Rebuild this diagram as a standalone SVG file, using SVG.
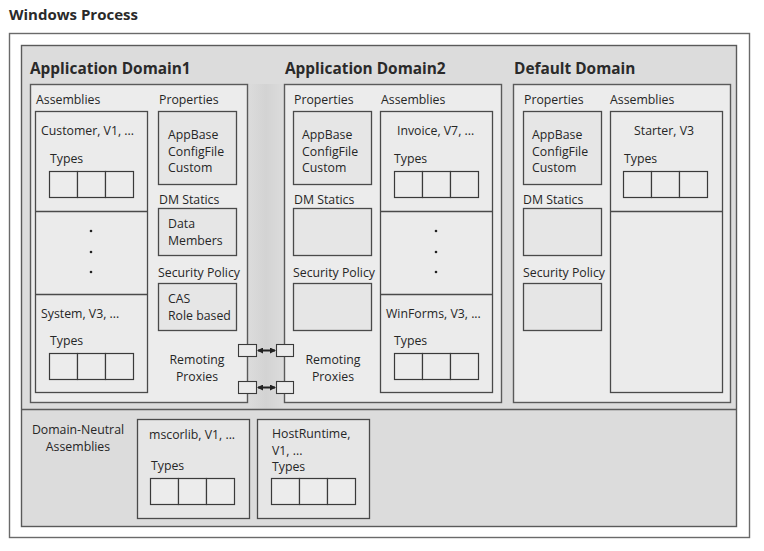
<svg xmlns="http://www.w3.org/2000/svg" width="764" height="551" viewBox="0 0 764 551">
<defs>
<style>
text{font-family:"Open Sans","Noto Sans","DejaVu Sans",sans-serif;font-size:12.3px;fill:#262626}
.t{font-size:15.4px;font-weight:bold;fill:#2a2a2a}
.h{font-size:15px;font-weight:bold;fill:#2a2a2a}
.c{text-anchor:middle}
.dom{fill:#ececec;stroke:#5a5a5a;stroke-width:1.4}
.box{fill:#e6e6e6;stroke:#4a4a4a;stroke-width:1.3}
.col{fill:#ebebeb;stroke:#4a4a4a;stroke-width:1.3}
.cell{fill:#ececec;stroke:#3a3a3a;stroke-width:1.2}
.ln{stroke:#4a4a4a;stroke-width:1.3}
.dot{fill:#222}
.px{fill:#ebebeb;stroke:#3a3a3a;stroke-width:1.1}
</style>
<g id="types-cells">
<rect class="cell" x="0" y="0" width="28" height="26"/>
<rect class="cell" x="28" y="0" width="28" height="26"/>
<rect class="cell" x="56" y="0" width="28" height="26"/>
</g>
<marker id="ah" markerWidth="6" markerHeight="6" refX="5" refY="3" orient="auto-start-reverse" markerUnits="userSpaceOnUse">
<path d="M0,0 L6,3 L0,6 z" fill="#222"/>
</marker>
<linearGradient id="band" x1="0" x2="1" y1="0" y2="0">
<stop offset="0" stop-color="#dcdcdc"/>
<stop offset="0.5" stop-color="#d3d3d3"/>
<stop offset="1" stop-color="#dcdcdc"/>
</linearGradient>
</defs>
<rect width="764" height="551" fill="#ffffff"/>
<text class="h" x="9" y="20">Windows Process</text>
<g id="windows-process">
<rect x="9.5" y="33.5" width="740" height="504" fill="#ffffff" stroke="#6a6a6a" stroke-width="1.4"/>
<rect x="21.5" y="45.5" width="715" height="481" fill="#dcdcdc" stroke="#5a5a5a" stroke-width="1.4"/>
<rect x="248" y="84" width="36" height="325" fill="url(#band)"/>
<line x1="21.5" y1="409.5" x2="736.5" y2="409.5" stroke="#5a5a5a" stroke-width="1.4"/>
</g>
<g id="appdomain1">
<text class="t" x="30" y="74">Application Domain1</text>
<rect class="dom" x="30.5" y="84.5" width="217" height="318"/>
<text x="36" y="104">Assemblies</text>
<rect class="col" x="35.5" y="111.5" width="112" height="281"/>
<line class="ln" x1="35.5" y1="211.5" x2="147.5" y2="211.5"/>
<line class="ln" x1="35.5" y1="294.5" x2="147.5" y2="294.5"/>
<text x="41" y="135">Customer, V1, ...</text>
<text x="50" y="163">Types</text>
<use href="#types-cells" x="49.5" y="171.5"/>
<circle class="dot" cx="91" cy="231" r="1.3"/>
<circle class="dot" cx="91" cy="252" r="1.3"/>
<circle class="dot" cx="91" cy="272" r="1.3"/>
<text x="41" y="318">System, V3, ...</text>
<text x="50" y="345">Types</text>
<use href="#types-cells" x="49.5" y="353.5"/>
<text x="159" y="104">Properties</text>
<rect class="box" x="158.5" y="111.5" width="78" height="73"/>
<text x="168" y="139">AppBase<tspan x="168" dy="16.5">ConfigFile</tspan><tspan x="168" dy="16.5">Custom</tspan></text>
<text x="159" y="204">DM Statics</text>
<rect class="box" x="158.5" y="208.5" width="78" height="47"/>
<text x="168" y="228">Data<tspan x="168" dy="16.5">Members</tspan></text>
<text x="158" y="277">Security Policy</text>
<rect class="box" x="158.5" y="283.5" width="78" height="47"/>
<text x="168" y="303">CAS<tspan x="168" dy="16.5">Role based</tspan></text>
<text class="c" x="197" y="364">Remoting<tspan x="197" dy="16.5">Proxies</tspan></text>
<rect class="px" x="238.5" y="344.5" width="18" height="12"/>
<rect class="px" x="238.5" y="381.5" width="18" height="12"/>
</g>
<g id="appdomain2">
<text class="t" x="285" y="74">Application Domain2</text>
<rect class="dom" x="284.5" y="84.5" width="217" height="318"/>
<text x="294" y="104">Properties</text>
<rect class="box" x="293.5" y="111.5" width="78" height="73"/>
<text x="302" y="139">AppBase<tspan x="302" dy="16.5">ConfigFile</tspan><tspan x="302" dy="16.5">Custom</tspan></text>
<text x="294" y="204">DM Statics</text>
<rect class="box" x="293.5" y="208.5" width="78" height="47"/>
<text x="293" y="277">Security Policy</text>
<rect class="box" x="293.5" y="283.5" width="78" height="47"/>
<text class="c" x="333" y="364">Remoting<tspan x="333" dy="16.5">Proxies</tspan></text>
<rect class="px" x="276.5" y="344.5" width="17" height="12"/>
<rect class="px" x="276.5" y="381.5" width="17" height="12"/>
<text x="381" y="104">Assemblies</text>
<rect class="col" x="380.5" y="111.5" width="112" height="281"/>
<line class="ln" x1="380.5" y1="211.5" x2="492.5" y2="211.5"/>
<line class="ln" x1="380.5" y1="294.5" x2="492.5" y2="294.5"/>
<text x="397" y="135">Invoice, V7, ...</text>
<text x="394" y="163">Types</text>
<use href="#types-cells" x="394.5" y="171.5"/>
<circle class="dot" cx="436" cy="231" r="1.3"/>
<circle class="dot" cx="436" cy="252" r="1.3"/>
<circle class="dot" cx="436" cy="272" r="1.3"/>
<text x="386" y="318">WinForms, V3, ...</text>
<text x="394" y="345">Types</text>
<use href="#types-cells" x="394.5" y="353.5"/>
</g>
<g id="default-domain">
<text class="t" x="514" y="74">Default Domain</text>
<rect class="dom" x="513.5" y="84.5" width="217" height="318"/>
<text x="524" y="104">Properties</text>
<rect class="box" x="523.5" y="111.5" width="78" height="73"/>
<text x="532" y="139">AppBase<tspan x="532" dy="16.5">ConfigFile</tspan><tspan x="532" dy="16.5">Custom</tspan></text>
<text x="523" y="204">DM Statics</text>
<rect class="box" x="523.5" y="208.5" width="78" height="47"/>
<text x="523" y="277">Security Policy</text>
<rect class="box" x="523.5" y="283.5" width="78" height="47"/>
<text x="610" y="104">Assemblies</text>
<rect class="col" x="610.5" y="111.5" width="112" height="281"/>
<line class="ln" x1="610.5" y1="211.5" x2="722.5" y2="211.5"/>
<text x="634" y="135">Starter, V3</text>
<text x="624" y="163">Types</text>
<use href="#types-cells" x="623.5" y="171.5"/>
</g>
<g id="domain-neutral">
<text class="c" x="78" y="434">Domain-Neutral<tspan x="78" dy="16.5">Assemblies</tspan></text>
<g id="mscorlib">
<rect class="box" x="137.5" y="419.5" width="112" height="99"/>
<text x="149" y="439">mscorlib, V1, ...</text>
<text x="151" y="470">Types</text>
<use href="#types-cells" x="150.5" y="478.5"/>
</g>
<g id="hostruntime">
<rect class="box" x="257.5" y="419.5" width="112" height="99"/>
<text x="272" y="438">HostRuntime,<tspan x="272" dy="16.5">V1, ...</tspan></text>
<text x="272" y="471">Types</text>
<use href="#types-cells" x="271.5" y="478.5"/>
</g>
</g>
<g id="connectors" stroke="#222" stroke-width="2">
<line x1="258" y1="350.5" x2="275" y2="350.5" marker-start="url(#ah)" marker-end="url(#ah)"/>
<line x1="258" y1="387.5" x2="275" y2="387.5" marker-start="url(#ah)" marker-end="url(#ah)"/>
</g>
</svg>
